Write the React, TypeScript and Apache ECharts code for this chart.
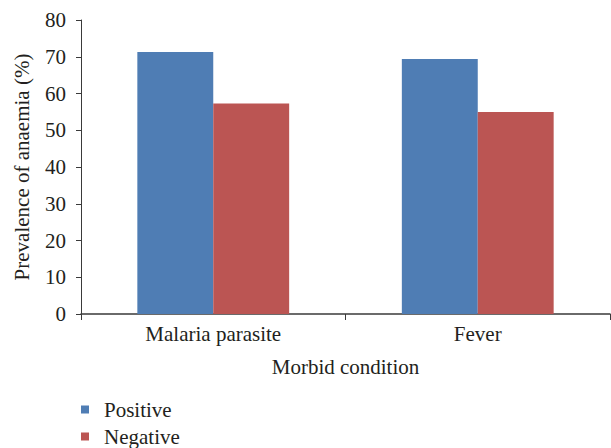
import React, { useEffect, useRef } from "react";
import * as echarts from "echarts";

const categories = ["Malaria parasite", "Fever"];
const positiveValues = [71.3, 69.4];
const negativeValues = [57.3, 55.0];
const seriesNames = ["Positive", "Negative"];

const FONT = "Liberation Serif";
const TEXT_COLOR = "#231f20";

export default function App() {
  const ref = useRef<HTMLDivElement>(null);
  useEffect(() => {
    if (!ref.current) return;
    const chart = echarts.init(ref.current, null, { renderer: "svg" });
    chart.setOption({
      animation: false,
      backgroundColor: "#ffffff",
      grid: { left: 81, right: 1, top: 20, bottom: 134, containLabel: false },
      legend: {
        orient: "vertical",
        left: 81,
        top: 399,
        height: 60,
        padding: 0,
        icon: "rect",
        itemWidth: 8,
        itemHeight: 8,
        itemGap: 6,
        data: seriesNames,
        textStyle: {
          fontFamily: FONT,
          fontSize: 21,
          lineHeight: 21,
          color: TEXT_COLOR,
          padding: [0, 0, 0, 10],
        },
      },
      xAxis: {
        type: "category",
        data: categories,
        boundaryGap: true,
        name: "Morbid condition",
        nameLocation: "middle",
        nameGap: 42,
        nameTextStyle: { fontFamily: FONT, fontSize: 21, color: TEXT_COLOR },
        axisLine: { lineStyle: { color: "#3a3a3a", width: 1.5 } },
        axisTick: { show: true, inside: false, length: 6, lineStyle: { color: "#3a3a3a" } },
        axisLabel: { fontFamily: FONT, fontSize: 21, color: TEXT_COLOR, margin: 9 },
      },
      yAxis: {
        type: "value",
        min: 0,
        max: 80,
        interval: 10,
        name: "Prevalence of anaemia (%)",
        nameLocation: "middle",
        nameGap: 49,
        nameTextStyle: { fontFamily: FONT, fontSize: 21, color: TEXT_COLOR },
        axisLine: { show: true, lineStyle: { color: "#3a3a3a", width: 1 } },
        axisTick: { show: true, inside: false, length: 5, lineStyle: { color: "#3a3a3a" } },
        axisLabel: { fontFamily: FONT, fontSize: 21, color: TEXT_COLOR, margin: 15 },
        splitLine: { show: false },
      },
      series: [
        {
          name: seriesNames[0],
          type: "bar",
          data: positiveValues,
          barWidth: "28.7%",
          barGap: "0%",
          itemStyle: { color: "#4F7DB4" },
        },
        {
          name: seriesNames[1],
          type: "bar",
          data: negativeValues,
          barWidth: "28.7%",
          barGap: "0%",
          itemStyle: { color: "#BB5553" },
        },
      ],
    });
    return () => chart.dispose();
  }, []);
  return (
    <div
      ref={ref}
      style={{ position: "fixed", left: 0, top: 0, width: 611, height: 448 }}
    />
  );
}
